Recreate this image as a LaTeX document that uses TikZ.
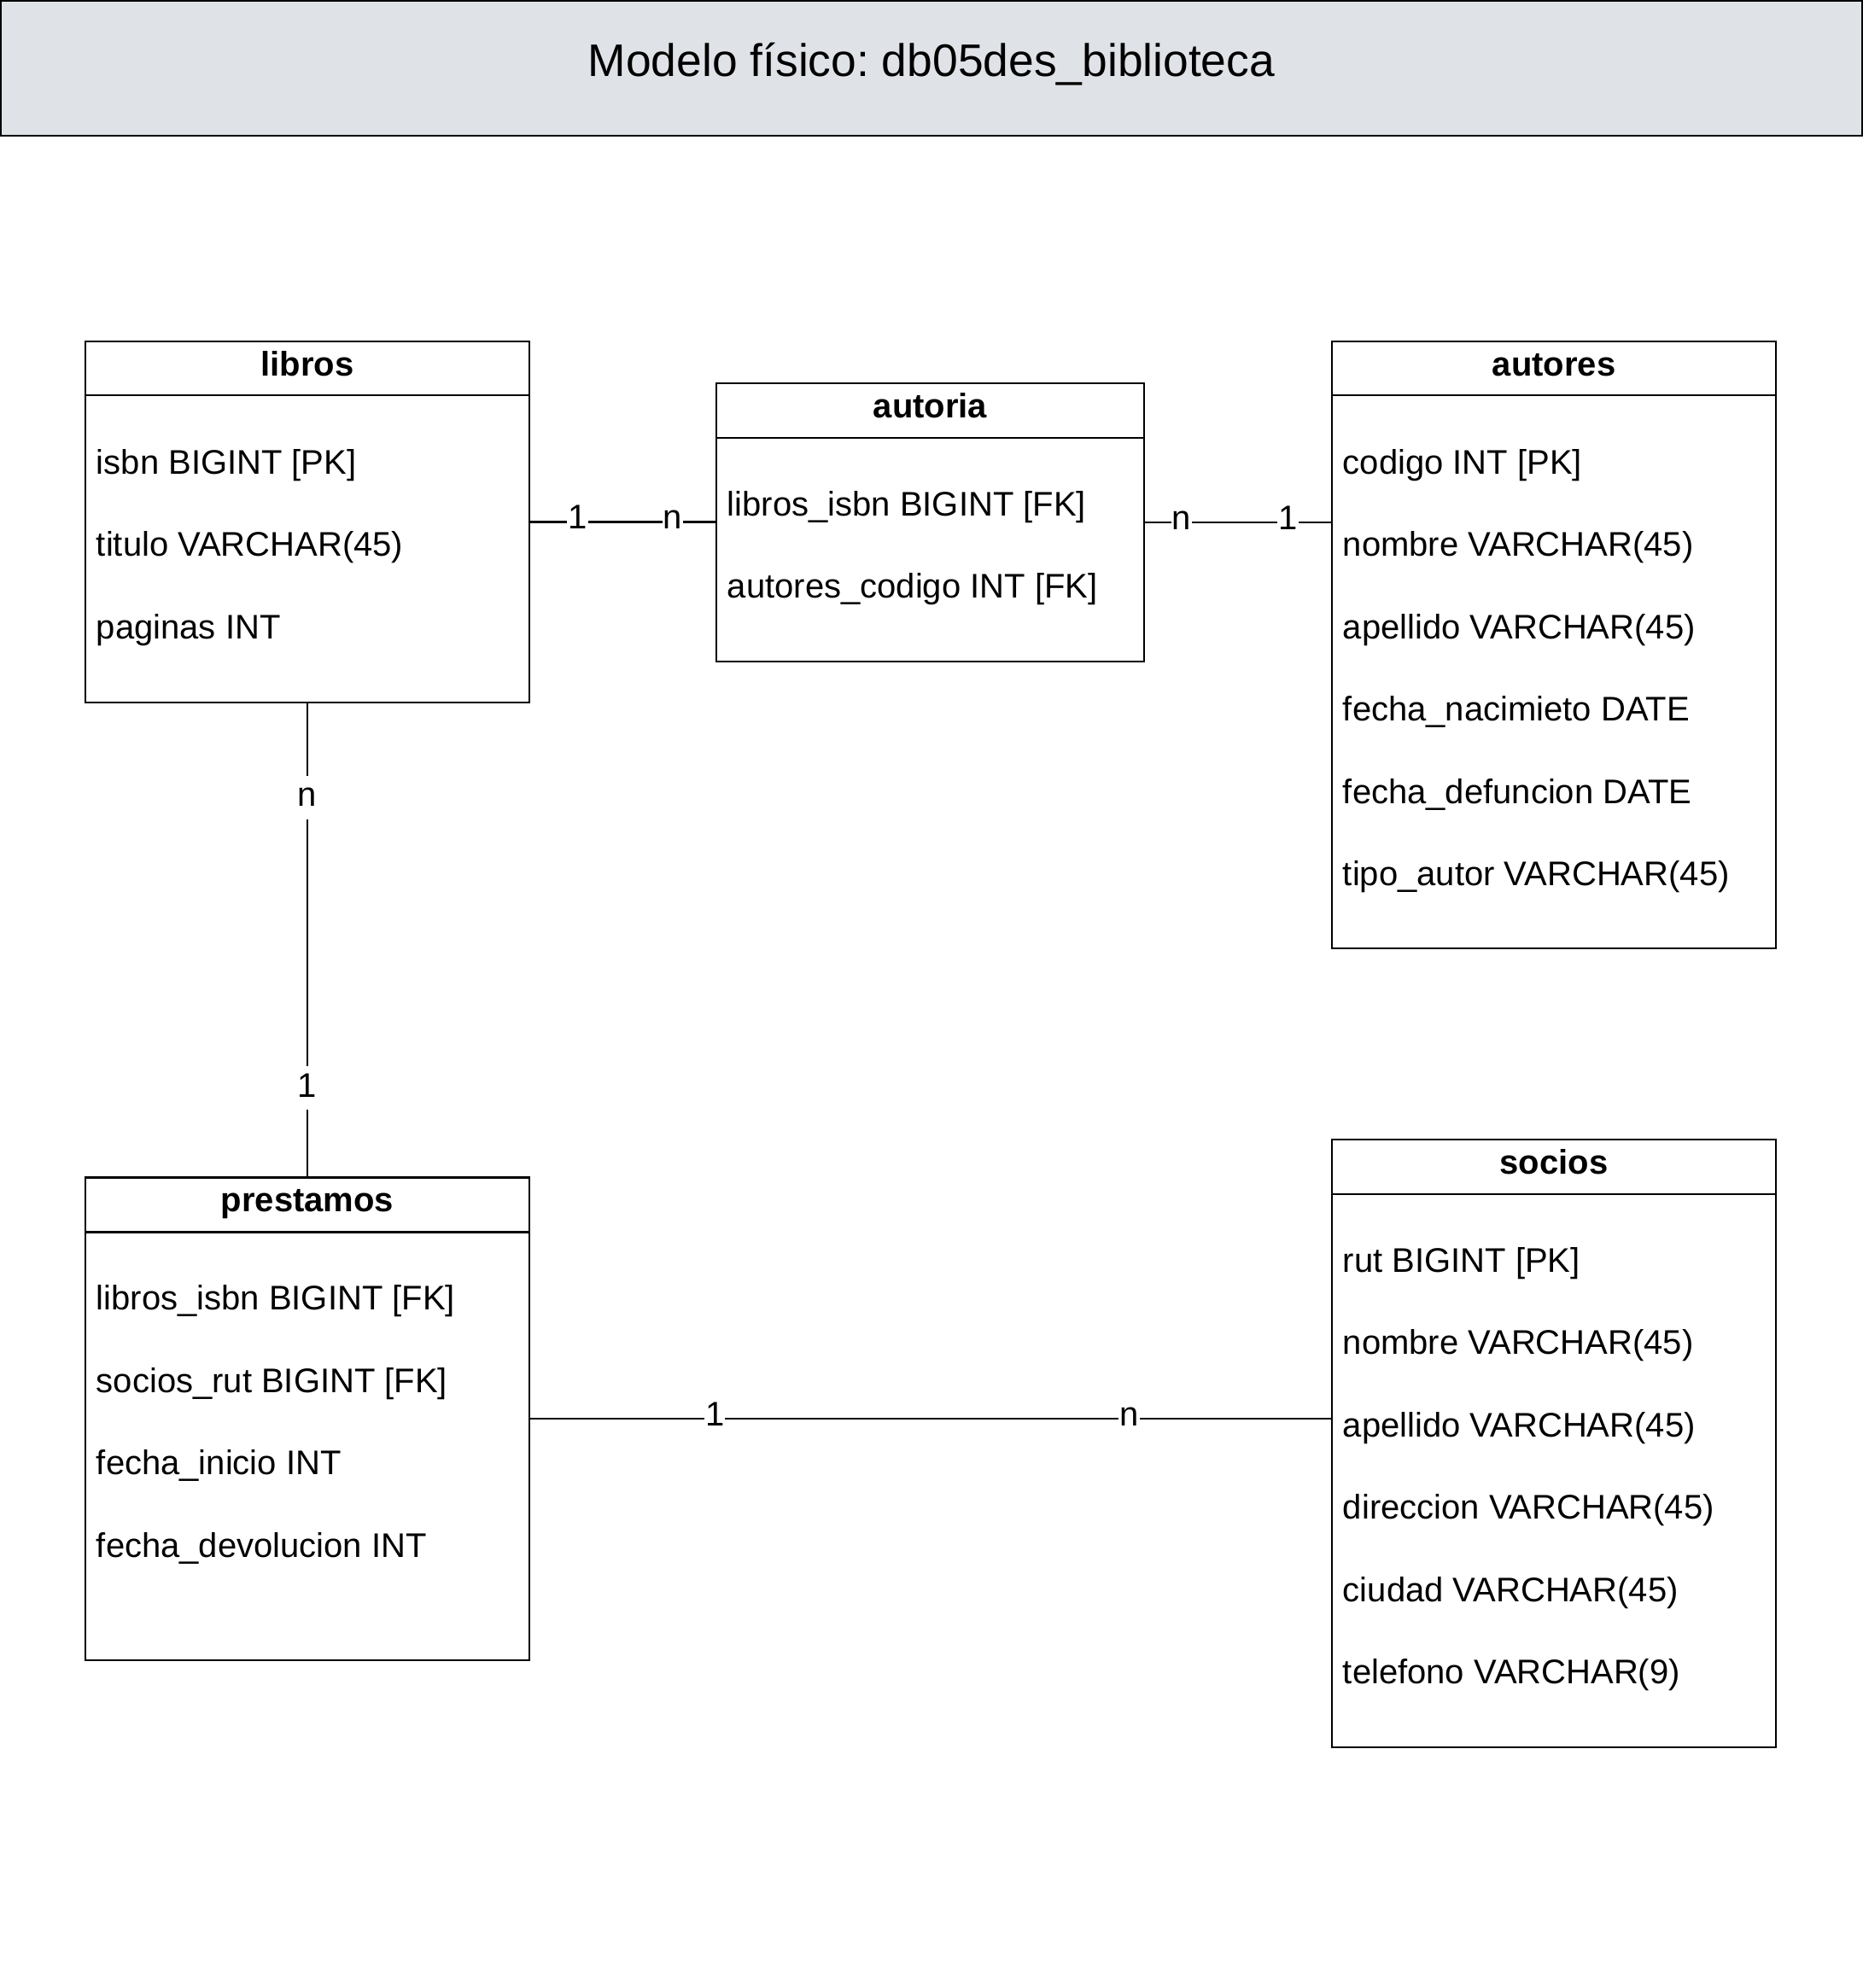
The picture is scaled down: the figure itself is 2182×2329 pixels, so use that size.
\documentclass[tikz,border=0pt]{standalone}
\usepackage{fontspec}
\setmainfont{Liberation Sans}
\frenchspacing
\definecolor{titlefill}{RGB}{223,226,231}
\tikzset{
  boxline/.style={line width=1.15pt, draw=black},
  entitybox/.style={boxline, rectangle, anchor=north west, outer sep=0pt, inner sep=0pt, fill=white},
  headtext/.style={anchor=base, inner sep=0pt, font=\fontsize{20pt}{24pt}\selectfont\bfseries},
  fieldtext/.style={anchor=base west, inner sep=0pt, font=\fontsize{20pt}{24pt}\selectfont},
  conn/.style={line width=1.15pt, draw=black},
  card/.style={anchor=base, yshift=-4pt, fill=white, inner xsep=0.6pt, inner ysep=1pt,
               text height=17pt, text depth=6.5pt, font=\fontsize{20pt}{24pt}\selectfont},
  titlebox/.style={rectangle, anchor=north west, outer sep=0pt, inner sep=0pt, fill=titlefill, draw=black, line width=1pt},
  titletext/.style={anchor=base, inner sep=0pt, font=\fontsize{26.7pt}{32pt}\selectfont}
}
\newcommand{\erentity}[8]{%
  \node[entitybox, minimum width=#4*0.5pt, minimum height=#5*0.5pt] (#1) at (#2,#3) {};
  \draw[boxline] ([yshift=-#6*0.5pt]#1.north west) -- ([yshift=-#6*0.5pt]#1.north east);
  \node[headtext] (#1-title) at ([yshift=-40*0.5pt]#1.north) {#7};
  \foreach \fld [count=\idx from 0] in {#8} {
    \node[fieldtext] (#1-f\idx) at ([xshift=12.5*0.5pt, yshift=-(155+96.5*\idx)*0.5pt]#1.north west) {\fld};
  }%
}
\begin{document}
\begin{tikzpicture}[x=0.5pt,y=-0.5pt]
\useasboundingbox (0,0) rectangle (2182,2329);
% title banner
\node[titlebox, minimum width=2180*0.5pt, minimum height=158*0.5pt] (banner) at (1,1) {};
\node[titletext] (bannertext) at (1091,89.3) {Modelo físico: db05des\_biblioteca};
% entities
\erentity{libros}{100}{400}{520}{423}{63}{libros}{{isbn BIGINT [PK]},{titulo VARCHAR(45)},{paginas INT}}
\erentity{autoria}{839}{449}{501}{326}{64}{autoria}{{libros\_isbn BIGINT [FK]},{autores\_codigo INT [FK]}}
\erentity{autores}{1560}{400}{520}{711}{63}{autores}{{codigo INT [PK]},{nombre VARCHAR(45)},{apellido VARCHAR(45)},{fecha\_nacimieto DATE},{fecha\_defuncion DATE},{tipo\_autor VARCHAR(45)}}
\erentity{prestamos}{100}{1379.5}{520}{565.5}{64}{prestamos}{{libros\_isbn BIGINT [FK]},{socios\_rut BIGINT [FK]},{fecha\_inicio INT},{fecha\_devolucion INT}}
\erentity{socios}{1560}{1335}{520}{712}{64}{socios}{{rut BIGINT [PK]},{nombre VARCHAR(45)},{apellido VARCHAR(45)},{direccion VARCHAR(45)},{ciudad VARCHAR(45)},{telefono VARCHAR(9)}}
% connectors
\draw[conn] (libros.east) -- node[card, pos=0.258] {1} node[card, pos=0.767] {n} (libros.east -| autoria.west);
\draw[conn] (autoria.east) -- node[card, pos=0.2] {n} node[card, pos=0.767] {1} (autoria.east -| autores.west);
\draw[conn] (libros.south) -- node[card, pos=0.204] {n} node[card, pos=0.816] {1} (prestamos.north);
\draw[conn] (prestamos.east) -- node[card, pos=0.231] {1} node[card, pos=0.747] {n} (prestamos.east -| socios.west);
\end{tikzpicture}
\end{document}
